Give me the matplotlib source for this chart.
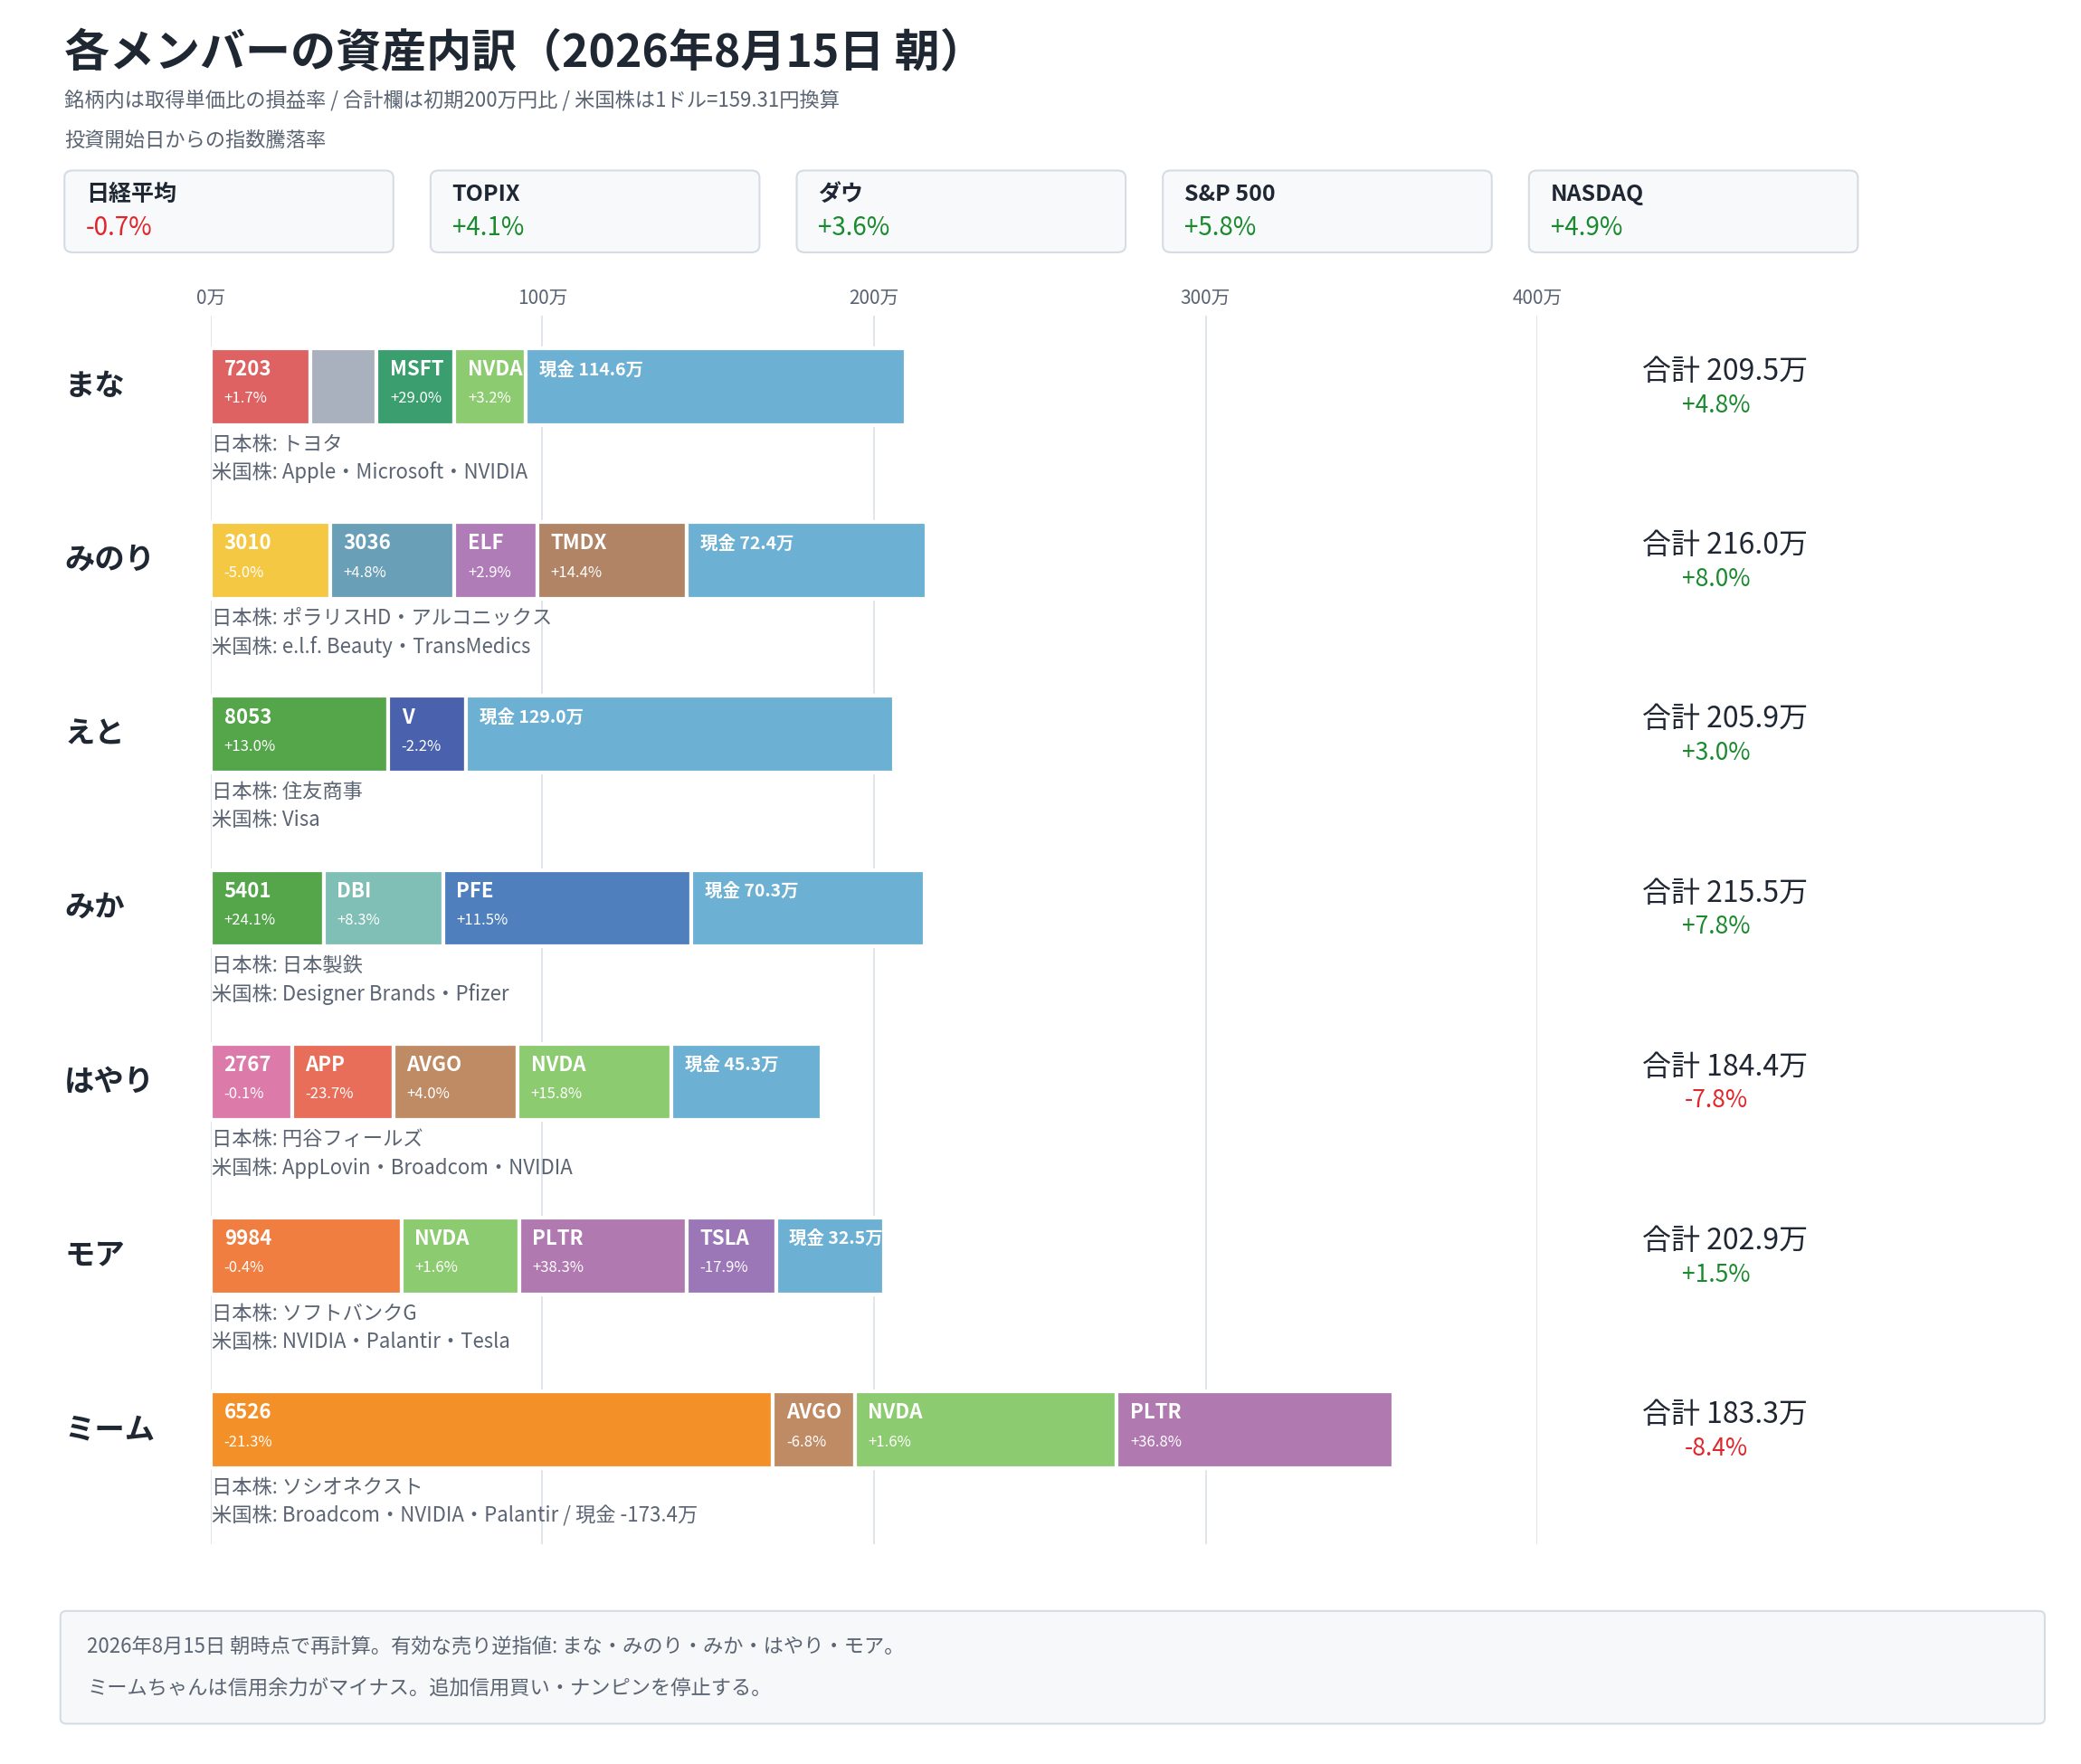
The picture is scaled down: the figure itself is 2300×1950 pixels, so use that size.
import matplotlib.pyplot as plt
import matplotlib as mpl
from matplotlib.patches import FancyBboxPatch

mpl.rcParams['font.family'] = ['Noto Sans CJK JP', 'DejaVu Sans']

W, H = 1550, 1314  # layout grid (reference in display px)

def fx(x):
    return x / W

def fy(y):
    return 1 - y / H

# ---- data ----
title = '各メンバーの資産内訳（2026年8月15日 朝）'
subtitle = '銘柄内は取得単価比の損益率 / 合計欄は初期200万円比 / 米国株は1ドル=159.31円換算'
index_names = ['日経平均', 'TOPIX', 'ダウ', 'S&P 500', 'NASDAQ']
index_chg = [-0.7, 4.1, 3.6, 5.8, 4.9]

members = ['まな', 'みのり', 'えと', 'みか', 'はやり', 'モア', 'ミーム']
tickers = [
    ['7203', '', 'MSFT', 'NVDA', '現金 114.6万'],
    ['3010', '3036', 'ELF', 'TMDX', '現金 72.4万'],
    ['8053', 'V', '現金 129.0万'],
    ['5401', 'DBI', 'PFE', '現金 70.3万'],
    ['2767', 'APP', 'AVGO', 'NVDA', '現金 45.3万'],
    ['9984', 'NVDA', 'PLTR', 'TSLA', '現金 32.5万'],
    ['6526', 'AVGO', 'NVDA', 'PLTR'],
]
values = [
    [30.0, 20.0, 23.5, 21.5, 114.6],
    [36.0, 37.5, 25.0, 45.0, 72.4],
    [53.5, 23.5, 129.0],
    [34.0, 36.0, 75.0, 70.3],
    [24.5, 30.5, 37.5, 46.5, 45.3],
    [57.5, 35.5, 50.4, 27.0, 32.5],
    [169.5, 24.7, 79.0, 83.5],
]
pcts = [
    [1.7, None, 29.0, 3.2, None],
    [-5.0, 4.8, 2.9, 14.4, None],
    [13.0, -2.2, None],
    [24.1, 8.3, 11.5, None],
    [-0.1, -23.7, 4.0, 15.8, None],
    [-0.4, 1.6, 38.3, -17.9, None],
    [-21.3, -6.8, 1.6, 36.8],
]
jp_names = ['トヨタ', 'ポラリスHD・アルコニックス', '住友商事', '日本製鉄',
            '円谷フィールズ', 'ソフトバンクG', 'ソシオネクスト']
us_names = ['Apple・Microsoft・NVIDIA', 'e.l.f. Beauty・TransMedics', 'Visa',
            'Designer Brands・Pfizer', 'AppLovin・Broadcom・NVIDIA',
            'NVIDIA・Palantir・Tesla', 'Broadcom・NVIDIA・Palantir / 現金 -173.4万']
totals = [209.5, 216.0, 205.9, 215.5, 184.4, 202.9, 183.3]
total_chg = [4.8, 8.0, 3.0, 7.8, -7.8, 1.5, -8.4]
x_ticks = [0, 100, 200, 300, 400]
footer = ['2026年8月15日 朝時点で再計算。有効な売り逆指値: まな・みのり・みか・はやり・モア。',
          'ミームちゃんは信用余力がマイナス。追加信用買い・ナンピンを停止する。']

colors = {
    '7203': '#DE6262', '': '#A9B1BE', 'MSFT': '#3A9E6E', 'NVDA': '#8CCB70',
    '3010': '#F4C843', '3036': '#6A9FB8', 'ELF': '#B07CB8', 'TMDX': '#B08465',
    '8053': '#55A64B', 'V': '#4A62AE', '5401': '#55A64B', 'DBI': '#7FBFB5',
    'PFE': '#4F80BD', '2767': '#DC7BA9', 'APP': '#E86E5A', 'AVGO': '#BF8B65',
    '9984': '#F07E40', 'PLTR': '#B079B0', 'TSLA': '#9B77B8', '6526': '#F39028',
}
CASH = '#6CB0D3'
GREEN, RED = '#1A8A2E', '#E0252B'
DARK, GRAY = '#1F2733', '#5A6472'

fig = plt.figure(figsize=(23, 19.5), dpi=100)

fig.text(fx(48), fy(40), title, fontsize=36, fontweight='bold', color=DARK, va='center')
fig.text(fx(48), fy(75), subtitle, fontsize=16, color=GRAY, va='center')
fig.text(fx(48), fy(105), '投資開始日からの指数騰落率', fontsize=16, color=GRAY, va='center')

for i, (nm, ch) in enumerate(zip(index_names, index_chg)):
    x0 = 48 + i * 272.7
    box = FancyBboxPatch((fx(x0), fy(188)), fx(245), 61 / H, transform=fig.transFigure,
                         boxstyle='round,pad=0,rounding_size=0.004', fc='#F7F9FB',
                         ec='#D5DCE4', lw=1.5)
    fig.patches.append(box)
    fig.text(fx(x0 + 16), fy(145), nm, fontsize=18, fontweight='bold', color=DARK, va='center')
    fig.text(fx(x0 + 16), fy(170), f'{ch:+.1f}%', fontsize=20,
             color=GREEN if ch >= 0 else RED, va='center')

# main axes: x 157..1145 for 0..400万, rows centered every 129.5px from 288
y_top, y_bot = 235, 1150
row0, step = 288, 129.5
ax = fig.add_axes([fx(157), fy(y_bot), fx(1145 - 157), (y_bot - y_top) / H])
ax.set_xlim(0, 400)
ax.set_ylim((y_bot - row0) / step, (y_top - row0) / step)
ax.set_axis_off()
for t in x_ticks:
    ax.axvline(t, color='#DDE3EA', lw=1.3, zorder=0)
    fig.text(fx(157 + t * 2.47), fy(222), f'{t}万', fontsize=15, color=GRAY,
             ha='center', va='center')

bh = 57 / step
for r, m in enumerate(members):
    left = 0
    for tk, v, p in zip(tickers[r], values[r], pcts[r]):
        cash = tk.startswith('現金')
        c = CASH if cash else colors[tk]
        bar = ax.barh(r, v, left=left, height=bh, color=c, edgecolor='white', lw=3,
                      zorder=2)[0]
        tx = left + 4
        t1 = ax.text(tx, r - bh * 0.22, tk, fontsize=16 if not cash else 14,
                     fontweight='bold', color='white', va='center', zorder=3)
        t1.set_clip_path(bar)
        if p is not None:
            t2 = ax.text(tx, r + bh * 0.16, f'{p:+.1f}%', fontsize=12, color='white',
                         va='center', zorder=3)
            t2.set_clip_path(bar)
        left += v
    yc = row0 + r * step
    fig.text(fx(48), fy(yc), m, fontsize=24, fontweight='bold', color=DARK, va='center')
    fig.text(fx(158), fy(yc + 43), f'日本株: {jp_names[r]}', fontsize=16, color=GRAY, va='center')
    fig.text(fx(158), fy(yc + 64), f'米国株: {us_names[r]}', fontsize=16, color=GRAY, va='center')
    fig.text(fx(1285), fy(yc - 11), f'合計 {totals[r]:.1f}万', fontsize=23, color=DARK,
             ha='center', va='center')
    ch = total_chg[r]
    fig.text(fx(1278), fy(yc + 14), f'{ch:+.1f}%', fontsize=19,
             color=GREEN if ch >= 0 else RED, ha='center', va='center')

fbox = FancyBboxPatch((fx(45), fy(1284)), fx(1478), 84 / H, transform=fig.transFigure,
                      boxstyle='round,pad=0,rounding_size=0.003', fc='#F6F8FA',
                      ec='#D5DCE4', lw=1.5)
fig.patches.append(fbox)
fig.text(fx(65), fy(1227), footer[0], fontsize=16, color=GRAY, va='center')
fig.text(fx(65), fy(1258), footer[1], fontsize=16, color=GRAY, va='center')

fig.savefig('out.png', dpi=100, facecolor='white')
